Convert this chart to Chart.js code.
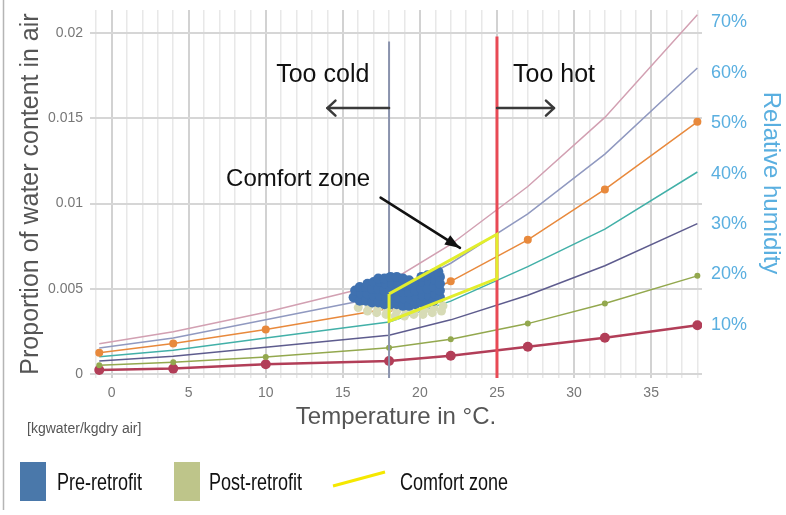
<!DOCTYPE html>
<html>
<head>
<meta charset="utf-8">
<script src="https://cdn.jsdelivr.net/npm/chart.js@4.4.1/dist/chart.umd.min.js"></script>
<style>
  html, body { margin: 0; padding: 0; background: #fff; }
  #wrap { position: relative; width: 786px; height: 515px; }
</style>
</head>
<body>
<div id="wrap"><canvas id="chart" width="786" height="515"></canvas></div>
<script>
// ---------------- Data ----------------
const temps = [-0.8, 4, 10, 18, 22, 27, 32, 38];
const rh10 = [0.00024, 0.00032, 0.00058, 0.00077, 0.00107, 0.00160, 0.00213, 0.00286];
const rh20 = [0.00052, 0.00070, 0.00100, 0.00154, 0.00204, 0.00296, 0.00414, 0.00576];
const rh30 = [0.00077, 0.00105, 0.00158, 0.00228, 0.00318, 0.00462, 0.00635, 0.00882];
const rh40 = [0.00101, 0.00140, 0.00212, 0.00305, 0.00428, 0.00630, 0.00850, 0.01185];
const rh50 = [0.00125, 0.00180, 0.00262, 0.00385, 0.00544, 0.00787, 0.01083, 0.01479];
const rh60 = [0.00153, 0.00212, 0.00318, 0.00462, 0.00650, 0.00940, 0.01290, 0.01795];
const rh70 = [0.00178, 0.00248, 0.00363, 0.00540, 0.00760, 0.01100, 0.01505, 0.02107];

const preRetrofit = [
  [15.7, 0.0045], [15.8, 0.0049],
  [16.1, 0.0043], [16.2, 0.0047], [16.1, 0.0051],
  [16.5, 0.0043], [16.6, 0.0047], [16.5, 0.0051], [16.6, 0.0053],
  [16.9, 0.0042], [17.0, 0.0046], [16.9, 0.0050], [17.0, 0.0054],
  [17.3, 0.0042], [17.4, 0.0046], [17.3, 0.0050], [17.4, 0.0054], [17.3, 0.0056],
  [17.7, 0.0041], [17.8, 0.0045], [17.7, 0.0049], [17.8, 0.0053], [17.7, 0.0056],
  [18.1, 0.0041], [18.2, 0.0045], [18.1, 0.0049], [18.2, 0.0053], [18.1, 0.0057],
  [18.5, 0.0041], [18.6, 0.0045], [18.5, 0.0049], [18.6, 0.0053], [18.5, 0.0057],
  [18.9, 0.0040], [19.0, 0.0044], [18.9, 0.0048], [19.0, 0.0052], [18.9, 0.0056],
  [19.3, 0.0040], [19.4, 0.0044], [19.3, 0.0048], [19.4, 0.0052], [19.3, 0.0055],
  [19.7, 0.0041], [19.8, 0.0045], [19.7, 0.0049], [19.8, 0.0053],
  [20.1, 0.0042], [20.2, 0.0046], [20.1, 0.0050], [20.2, 0.0054], [20.1, 0.0057],
  [20.5, 0.0042], [20.6, 0.0046], [20.5, 0.0050], [20.6, 0.0054], [20.5, 0.0058],
  [20.9, 0.0043], [21.0, 0.0047], [20.9, 0.0051], [21.0, 0.0055], [20.9, 0.0059],
  [21.3, 0.0045], [21.3, 0.0049], [21.3, 0.0053], [21.3, 0.0057], [21.2, 0.0060]
];

const postRetrofit = [
  [16.0, 0.0039], [16.1, 0.0042], [16.6, 0.0037], [16.7, 0.0040],
  [17.2, 0.0036], [17.3, 0.0039], [17.8, 0.0035], [17.9, 0.0038],
  [18.4, 0.0034], [18.5, 0.0037], [19.0, 0.0034], [19.1, 0.0037],
  [19.6, 0.0035], [19.7, 0.0038], [20.2, 0.0035], [20.3, 0.0038],
  [20.8, 0.0036], [20.9, 0.0039], [21.4, 0.0037], [21.5, 0.0040]
];

const comfortZone = [[18, 0.0047], [25, 0.0082], [25, 0.0056], [18, 0.0031], [18, 0.0047]];
const coldLine = [[18, -0.00023], [18, 0.0195]];
const hotLine = [[25, -0.00023], [25, 0.0198]];

// annotation anchors in data units
const notes = [
  { text: "Too cold", t: 13.7, w: 0.01715 },
  { text: "Too hot", t: 28.7, w: 0.01715 },
  { text: "Comfort zone", t: 12.1, w: 0.0110 }
];
const arrows = [
  { from: [18, 0.0156], to: [14.0, 0.0156], filled: false },
  { from: [25, 0.0156], to: [28.7, 0.0156], filled: false },
  { from: [17.45, 0.01035], to: [22.6, 0.0074], filled: true }
];

const FONT = "'Liberation Sans', Arial, sans-serif";
Chart.defaults.font.family = FONT;

const xy = (ys) => temps.map((t, i) => ({ x: t, y: ys[i] }));
const pts = (list) => list.map(([x, y]) => ({ x, y }));

const rhLine = (ys, color, width, radius) => ({
  data: xy(ys),
  showLine: true,
  borderColor: color,
  borderWidth: width,
  backgroundColor: color,
  pointRadius: radius,
  pointHoverRadius: radius,
  pointBorderWidth: 0,
  tension: 0,
  order: 10
});

// ---------------- Overlay drawing ----------------
const toPx = (chart, t, w) => ({
  x: chart.scales.x.getPixelForValue(t),
  y: chart.scales.y.getPixelForValue(w)
});

function drawArrow(ctx, a, b, filled) {
  const ang = Math.atan2(b.y - a.y, b.x - a.x);
  ctx.save();
  ctx.strokeStyle = filled ? "#111" : "#3a3a3a";
  ctx.fillStyle = "#111";
  ctx.lineWidth = 2.5;
  ctx.lineCap = "round";
  ctx.lineJoin = "round";
  ctx.beginPath();
  ctx.moveTo(a.x, a.y);
  ctx.lineTo(b.x, b.y);
  ctx.stroke();
  const head = filled ? 16 : 11;
  const spread = filled ? 0.35 : 0.75;
  ctx.beginPath();
  ctx.moveTo(b.x - head * Math.cos(ang - spread), b.y - head * Math.sin(ang - spread));
  ctx.lineTo(b.x, b.y);
  ctx.lineTo(b.x - head * Math.cos(ang + spread), b.y - head * Math.sin(ang + spread));
  if (filled) {
    ctx.closePath();
    ctx.fill();
  } else {
    ctx.stroke();
  }
  ctx.restore();
}

const overlay = {
  id: "overlay",
  afterDatasetsDraw(chart) {
    const ctx = chart.ctx;
    arrows.forEach((a) => {
      drawArrow(ctx, toPx(chart, a.from[0], a.from[1]), toPx(chart, a.to[0], a.to[1]), a.filled);
    });
    ctx.save();
    ctx.fillStyle = "#111";
    ctx.textAlign = "center";
    ctx.textBaseline = "alphabetic";
    notes.forEach((n) => {
      const p = toPx(chart, n.t, n.w);
      ctx.font = (n.text === "Comfort zone" ? "24px " : "25px ") + FONT;
      ctx.fillText(n.text, p.x, p.y);
    });
    ctx.restore();
  },
  afterDraw(chart) {
    const ctx = chart.ctx;
    ctx.save();
    // frame line on the left
    ctx.strokeStyle = "#b5b5b5";
    ctx.lineWidth = 1.5;
    ctx.beginPath();
    ctx.moveTo(3.5, 0);
    ctx.lineTo(3.5, 510);
    ctx.stroke();

    // right axis title, sitting a bit above the axis middle as in the source
    ctx.save();
    ctx.translate(771, 183);
    ctx.rotate(Math.PI / 2);
    ctx.fillStyle = "#5aafe0";
    ctx.font = "24px " + FONT;
    ctx.textAlign = "center";
    ctx.textBaseline = "middle";
    ctx.fillText("Relative humidity", 0, 0);
    ctx.restore();

    // unit note
    ctx.fillStyle = "#555";
    ctx.font = "14px " + FONT;
    ctx.textAlign = "left";
    ctx.textBaseline = "alphabetic";
    ctx.fillText("[kgwater/kgdry air]", 27, 433);

    // legend
    const items = [
      { label: "Pre-retrofit", color: "#4a78aa", x: 20, tx: 57, kind: "box" },
      { label: "Post-retrofit", color: "#bec58a", x: 174, tx: 209, kind: "box" },
      { label: "Comfort zone", color: "#f5e800", x: 333, tx: 400, kind: "line" }
    ];
    items.forEach((it) => {
      if (it.kind === "box") {
        ctx.fillStyle = it.color;
        ctx.fillRect(it.x, 462, 26, 39);
      } else {
        ctx.strokeStyle = it.color;
        ctx.lineWidth = 3;
        ctx.beginPath();
        ctx.moveTo(it.x, 486);
        ctx.lineTo(it.x + 52, 472);
        ctx.stroke();
      }
      ctx.save();
      ctx.translate(it.tx, 490);
      ctx.scale(0.75, 1);
      ctx.fillStyle = "#111";
      ctx.font = "24px " + FONT;
      ctx.fillText(it.label, 0, 0);
      ctx.restore();
    });
    ctx.restore();
  }
};

// ---------------- Chart ----------------
new Chart(document.getElementById("chart"), {
  type: "scatter",
  data: {
    datasets: [
      rhLine(rh70, "#d2a0b2", 1.5, 0),
      rhLine(rh60, "#9099c0", 1.5, 0),
      rhLine(rh50, "#e8893c", 1.5, 4),
      rhLine(rh40, "#42b0a8", 1.5, 0),
      rhLine(rh30, "#5e5c8e", 1.5, 0),
      rhLine(rh20, "#93a84e", 1.5, 3),
      rhLine(rh10, "#b23e58", 2.5, 5),
      {
        data: pts(coldLine), showLine: true, borderColor: "#8a93ad", borderWidth: 2,
        pointRadius: 0, order: 8
      },
      {
        data: pts(hotLine), showLine: true, borderColor: "#e84a55", borderWidth: 3,
        pointRadius: 0, order: 7
      },
      {
        data: pts(postRetrofit), backgroundColor: "#d7dbb6", pointRadius: 4.5,
        pointBorderWidth: 0, order: 6
      },
      {
        data: pts(preRetrofit), backgroundColor: "#3f71b0", pointRadius: 5,
        pointBorderWidth: 0, order: 5
      },
      {
        data: pts(comfortZone), showLine: true, borderColor: "#e2ee2c", borderWidth: 3,
        pointRadius: 0, tension: 0, order: 3
      }
    ]
  },
  options: {
    responsive: false,
    animation: false,
    events: [],
    layout: { padding: { top: 10, bottom: 75, left: 0, right: 0 } },
    plugins: { legend: { display: false }, tooltip: { enabled: false } },
    scales: {
      x: {
        type: "linear",
        min: -1.4,
        max: 38.3,
        afterFit: (s) => { s.height = 62; },
        border: { display: false },
        grid: {
          drawTicks: false,
          color: (c) => (c.tick && c.tick.value % 5 === 0 ? "#d2d2d2" : "#e8e8e8"),
          lineWidth: (c) => (c.tick && c.tick.value % 5 === 0 ? 2 : 1.5)
        },
        ticks: {
          stepSize: 1,
          includeBounds: false,
          autoSkip: false,
          maxRotation: 0,
          padding: 7,
          color: "#777",
          font: { size: 14 },
          callback: (v) => (v % 5 === 0 ? String(v) : "")
        },
        title: {
          display: true,
          text: "Temperature in °C.",
          color: "#555",
          font: { size: 24 },
          padding: { top: 0, bottom: 8 }
        }
      },
      y: {
        position: "left",
        min: -0.00023,
        max: 0.02135,
        afterFit: (s) => { s.width = 90; },
        border: { display: false },
        grid: { drawTicks: true, tickLength: 7, tickColor: "rgba(0,0,0,0)", color: "#d6d6d6", lineWidth: 2 },
        ticks: {
          stepSize: 0.005,
          includeBounds: false,
          padding: 0,
          color: "#777",
          font: { size: 14, lineHeight: 1 },
          callback: (v) => String(parseFloat(v.toFixed(4)))
        },
        title: {
          display: true,
          text: "Proportion of water content in air",
          color: "#555",
          font: { size: 25 },
          padding: { top: 16, bottom: 0 }
        }
      },
      rh: {
        position: "right",
        min: -0.5,
        max: 72.4,
        afterFit: (s) => { s.width = 84; },
        border: { display: false },
        grid: { display: false, drawTicks: true, tickLength: 9 },
        ticks: {
          stepSize: 10,
          includeBounds: false,
          padding: 0,
          color: "#5aafe0",
          font: { size: 18, lineHeight: 1 },
          callback: (v) => (v === 0 ? "" : v + "%")
        },
        title: { display: false }
      }
    }
  },
  plugins: [overlay]
});
</script>
</body>
</html>
